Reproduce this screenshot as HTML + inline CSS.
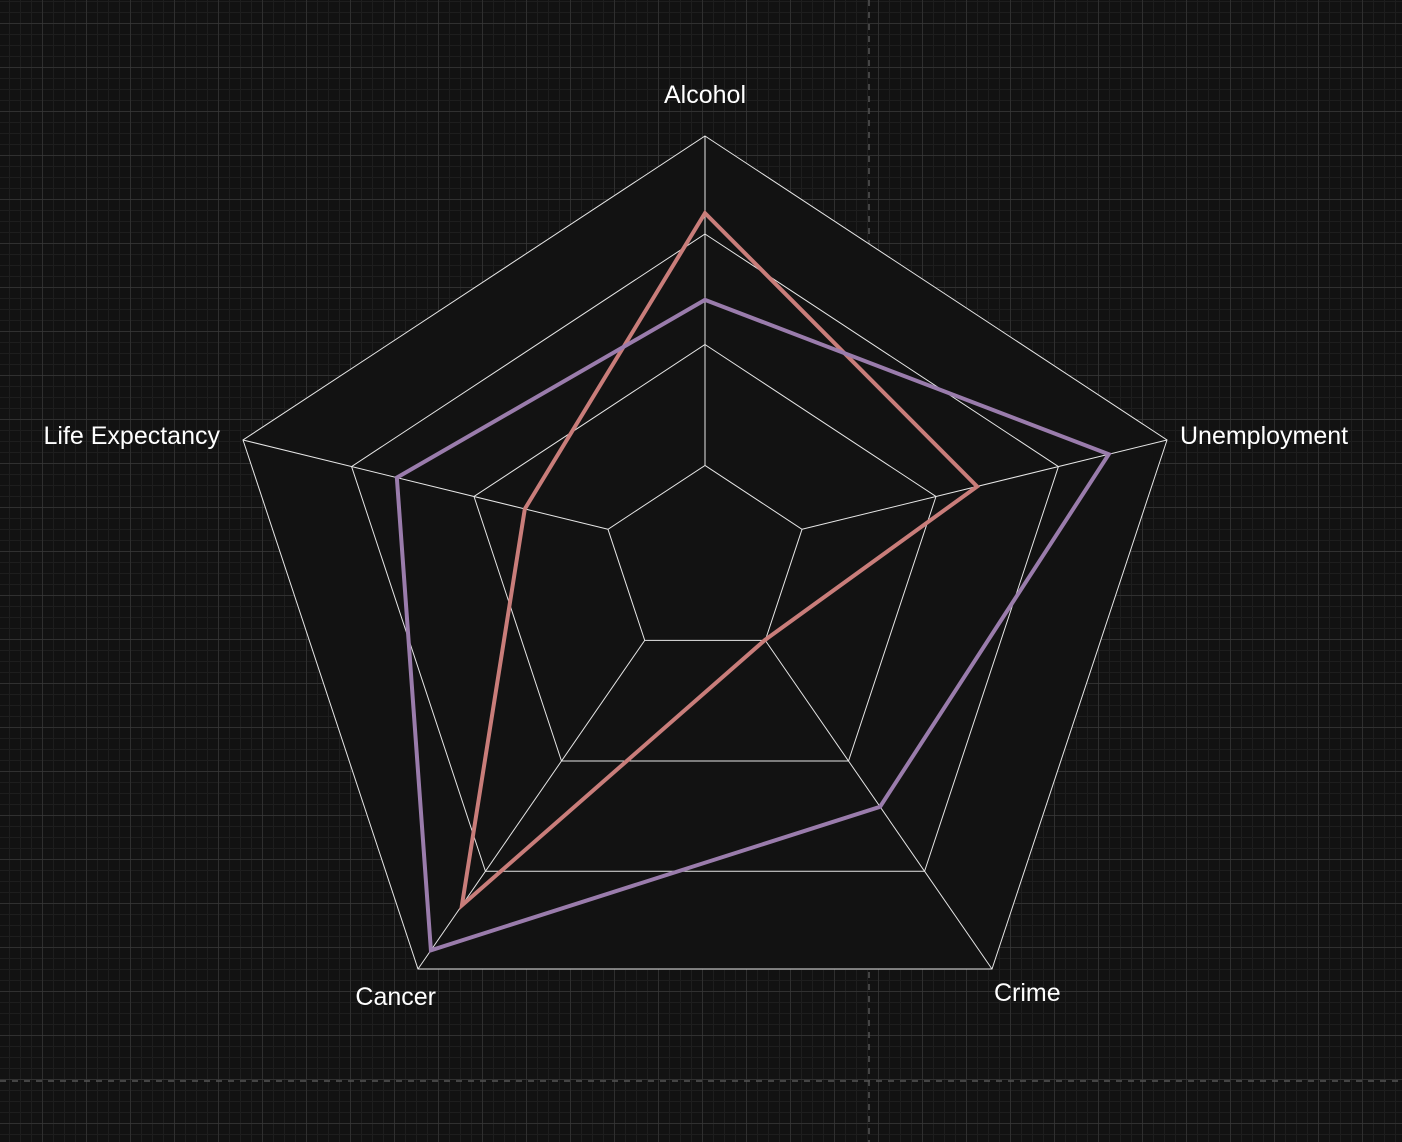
<!DOCTYPE html>
<html><head><meta charset="utf-8">
<style>
html,body{margin:0;padding:0;background:#121212;}
svg{display:block;font-family:"Liberation Sans",sans-serif;}
</style></head>
<body>
<svg id="chart" width="1402" height="1142" viewBox="0 0 1402 1142">
  <defs>
    <pattern id="minor" x="9" y="1" width="11" height="11" patternUnits="userSpaceOnUse">
      <path d="M0 0V11M0 0H11" stroke="#1e1e1e" stroke-width="2" fill="none"/>
    </pattern>
    <pattern id="major" x="42" y="23" width="44" height="44" patternUnits="userSpaceOnUse">
      <path d="M0 0V44M0 0H44" stroke="#3a3a3a" stroke-width="1.2" fill="none"/>
    </pattern>
  </defs>
  <rect width="1402" height="1142" fill="#121212"/>
  <rect width="1402" height="1142" fill="url(#minor)"/>
  <rect width="1402" height="1142" fill="url(#major)"/>
  <line x1="869" y1="0" x2="869" y2="1142" stroke="#555" stroke-width="1.5" stroke-dasharray="6,6"/>
  <line x1="0" y1="1081" x2="1402" y2="1081" stroke="#555" stroke-width="1.5" stroke-dasharray="6,6"/>
  <g id="plot"></g>
</svg>
<script>
const categories = ["Alcohol","Unemployment","Crime","Cancer","Life Expectancy"];
const seriesRed = [0.815, 0.589, 0.209, 0.847, 0.39];
const seriesPurple = [0.607, 0.874, 0.61, 0.955, 0.667];
const ringLevels = [0.21, 0.5, 0.765, 1];

const NS = "http://www.w3.org/2000/svg";
const cx = 705, cy = 553;
const outer = [[0,-417],[462,-113],[287,416],[-287,416],[-462,-113]];
function pt(i, v){ return [cx + outer[i][0]*v, cy + outer[i][1]*v]; }
const g = document.getElementById('plot');
function mk(tag, attrs){ const e=document.createElementNS(NS,tag); for(const k in attrs) e.setAttribute(k,attrs[k]); g.appendChild(e); return e; }

const outerPts = categories.map((c,i)=>pt(i,1).join(',')).join(' ');
const bg = mk('polygon',{points:outerPts, fill:'#121212'});



ringLevels.forEach((r)=>{
  const p = mk('polygon',{points:categories.map((c,i)=>pt(i,r).join(',')).join(' '), fill:'none', stroke:'#e6e6e6', 'stroke-width':1});
  
  
});
const innerR = ringLevels[0];
categories.forEach((c,i)=>{
  const [x0,y0]=pt(i,innerR);
  const [x,y]=pt(i,1);
  const l = mk('line',{x1:x0,y1:y0,x2:x,y2:y,stroke:'#e6e6e6','stroke-width':1});
  
  
});
function series(vals,color,name){
  const p = mk('polygon',{points:vals.map((v,i)=>pt(i,v).join(',')).join(' '), fill:'none', stroke:color, 'stroke-width':4, 'stroke-linejoin':'miter'});
  
  
}
series(seriesRed,'#c97d7a','series-red');
series(seriesPurple,'#9a7cac','series-purple');

const labelPos = [[705,103,'middle'],[1180,444,'start'],[994,1001,'start'],[436,1005,'end'],[220,444,'end']];
categories.forEach((c,i)=>{
  const t = mk('text',{x:labelPos[i][0],y:labelPos[i][1],'text-anchor':labelPos[i][2],fill:'#ffffff','font-size':25});
  t.textContent=c;
  
  
});
</script>
</body></html>
